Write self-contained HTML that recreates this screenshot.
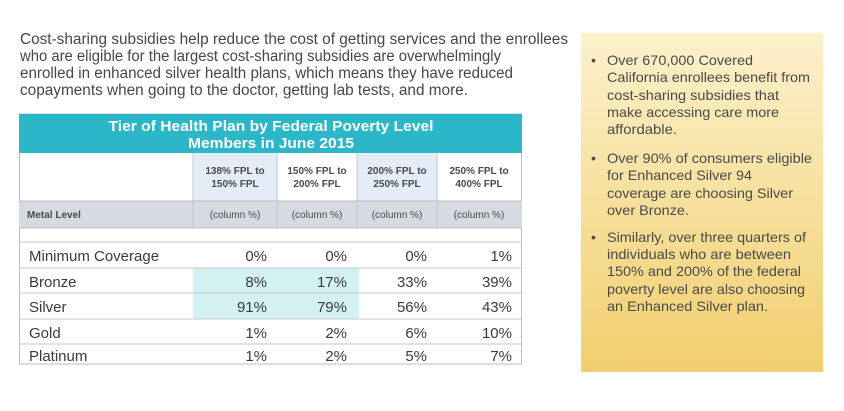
<!DOCTYPE html>
<html><head><meta charset="utf-8"><style>
html,body{margin:0;padding:0;background:#fff}
svg{display:block;font-family:"Liberation Sans",Arial,sans-serif}
</style></head><body>
<svg width="844" height="411" viewBox="0 0 844 411" xmlns="http://www.w3.org/2000/svg">
<defs>
<linearGradient id="g" x1="0" y1="0" x2="0" y2="1">
<stop offset="0" stop-color="#fcf1cc"/><stop offset="1" stop-color="#f1cf6e"/>
</linearGradient>
</defs>
<g fill="#474747" font-size="15.5">
<text x="20" y="44" textLength="548" lengthAdjust="spacingAndGlyphs">Cost-sharing subsidies help reduce the cost of getting services and the enrollees</text>
<text x="20" y="61" textLength="481" lengthAdjust="spacingAndGlyphs">who are eligible for the largest cost-sharing subsidies are overwhelmingly</text>
<text x="20" y="78" textLength="493" lengthAdjust="spacingAndGlyphs">enrolled in enhanced silver health plans, which means they have reduced</text>
<text x="20" y="95" textLength="448" lengthAdjust="spacingAndGlyphs">copayments when going to the doctor, getting lab tests, and more.</text>
</g>
<rect x="581" y="33" width="242" height="339" fill="url(#g)"/>
<g fill="#4a4a4a" font-size="14">
<text x="591" y="65">•</text><text x="591" y="163">•</text><text x="591" y="242">•</text>
<text x="607" y="65" textLength="146" lengthAdjust="spacingAndGlyphs">Over 670,000 Covered</text>
<text x="607" y="82" textLength="203" lengthAdjust="spacingAndGlyphs">California enrollees benefit from</text>
<text x="607" y="100" textLength="172" lengthAdjust="spacingAndGlyphs">cost-sharing subsidies that</text>
<text x="607" y="117" textLength="172" lengthAdjust="spacingAndGlyphs">make accessing care more</text>
<text x="607" y="134" textLength="70" lengthAdjust="spacingAndGlyphs">affordable.</text>
<text x="607" y="163" textLength="205" lengthAdjust="spacingAndGlyphs">Over 90% of consumers eligible</text>
<text x="607" y="180" textLength="145" lengthAdjust="spacingAndGlyphs">for Enhanced Silver 94</text>
<text x="607" y="198" textLength="186" lengthAdjust="spacingAndGlyphs">coverage are choosing Silver</text>
<text x="607" y="215" textLength="82" lengthAdjust="spacingAndGlyphs">over Bronze.</text>
<text x="607" y="242" textLength="199" lengthAdjust="spacingAndGlyphs">Similarly, over three quarters of</text>
<text x="607" y="259" textLength="184" lengthAdjust="spacingAndGlyphs">individuals who are between</text>
<text x="607" y="276" textLength="194" lengthAdjust="spacingAndGlyphs">150% and 200% of the federal</text>
<text x="607" y="294" textLength="198" lengthAdjust="spacingAndGlyphs">poverty level are also choosing</text>
<text x="607" y="311" textLength="161" lengthAdjust="spacingAndGlyphs">an Enhanced Silver plan.</text>
</g>
<!-- table -->
<rect x="19.5" y="114" width="502" height="250" fill="#fff" stroke="#b8bcc4"/>
<rect x="19" y="114" width="503" height="39" fill="#2bb7c8"/>
<g fill="#fff" font-size="15" font-weight="bold" text-anchor="middle">
<text x="271" y="131" textLength="325" lengthAdjust="spacingAndGlyphs">Tier of Health Plan by Federal Poverty Level</text>
<text x="271" y="148" textLength="166" lengthAdjust="spacingAndGlyphs">Members in June 2015</text>
</g>
<rect x="193" y="153" width="84" height="48" fill="#e4ecf7"/>
<rect x="357" y="153" width="80" height="48" fill="#e4ecf7"/>
<rect x="19" y="201" width="503" height="27" fill="#d6dae1"/>
<g stroke="#c3c7cf" stroke-width="1">
<line x1="193" y1="153" x2="193" y2="228"/><line x1="277" y1="153" x2="277" y2="228"/>
<line x1="357" y1="153" x2="357" y2="228"/><line x1="437" y1="153" x2="437" y2="228"/>
<line x1="19" y1="201" x2="522" y2="201" stroke="#b8bcc4"/>
<line x1="19" y1="228" x2="522" y2="228" stroke="#b8bcc4"/>
</g>
<g fill="#4a4a4a" font-size="10" font-weight="bold" text-anchor="middle">
<text x="235" y="174">138% FPL to</text><text x="235" y="187">150% FPL</text>
<text x="317" y="174">150% FPL to</text><text x="317" y="187">200% FPL</text>
<text x="397" y="174">200% FPL to</text><text x="397" y="187">250% FPL</text>
<text x="479" y="174">250% FPL to</text><text x="479" y="187">400% FPL</text>
</g>
<text x="27" y="218" fill="#4a4a4a" font-size="10" font-weight="bold">Metal Level</text>
<g fill="#4a4a4a" font-size="10" text-anchor="middle">
<text x="235" y="218">(column %)</text><text x="317" y="218">(column %)</text>
<text x="397" y="218">(column %)</text><text x="479" y="218">(column %)</text>
</g>
<rect x="193" y="268" width="166" height="51" fill="#d3f0f3"/>
<g stroke="#c3c7cf">
<line x1="19" y1="242" x2="522" y2="242"/><line x1="19" y1="268" x2="522" y2="268"/>
<line x1="19" y1="293" x2="522" y2="293"/><line x1="19" y1="319" x2="522" y2="319"/>
<line x1="19" y1="344" x2="522" y2="344"/>
</g>
<g fill="#3a3a3a" font-size="15">
<text x="29" y="261">Minimum Coverage</text>
<text x="29" y="287">Bronze</text>
<text x="29" y="312">Silver</text>
<text x="29" y="338">Gold</text>
<text x="29" y="361">Platinum</text>
</g>
<g fill="#3a3a3a" font-size="15" text-anchor="end">
<text x="267" y="261">0%</text><text x="347" y="261">0%</text><text x="427" y="261">0%</text><text x="512" y="261">1%</text>
<text x="267" y="287">8%</text><text x="347" y="287">17%</text><text x="427" y="287">33%</text><text x="512" y="287">39%</text>
<text x="267" y="312">91%</text><text x="347" y="312">79%</text><text x="427" y="312">56%</text><text x="512" y="312">43%</text>
<text x="267" y="338">1%</text><text x="347" y="338">2%</text><text x="427" y="338">6%</text><text x="512" y="338">10%</text>
<text x="267" y="361">1%</text><text x="347" y="361">2%</text><text x="427" y="361">5%</text><text x="512" y="361">7%</text>
</g>
</svg>
</body></html>
